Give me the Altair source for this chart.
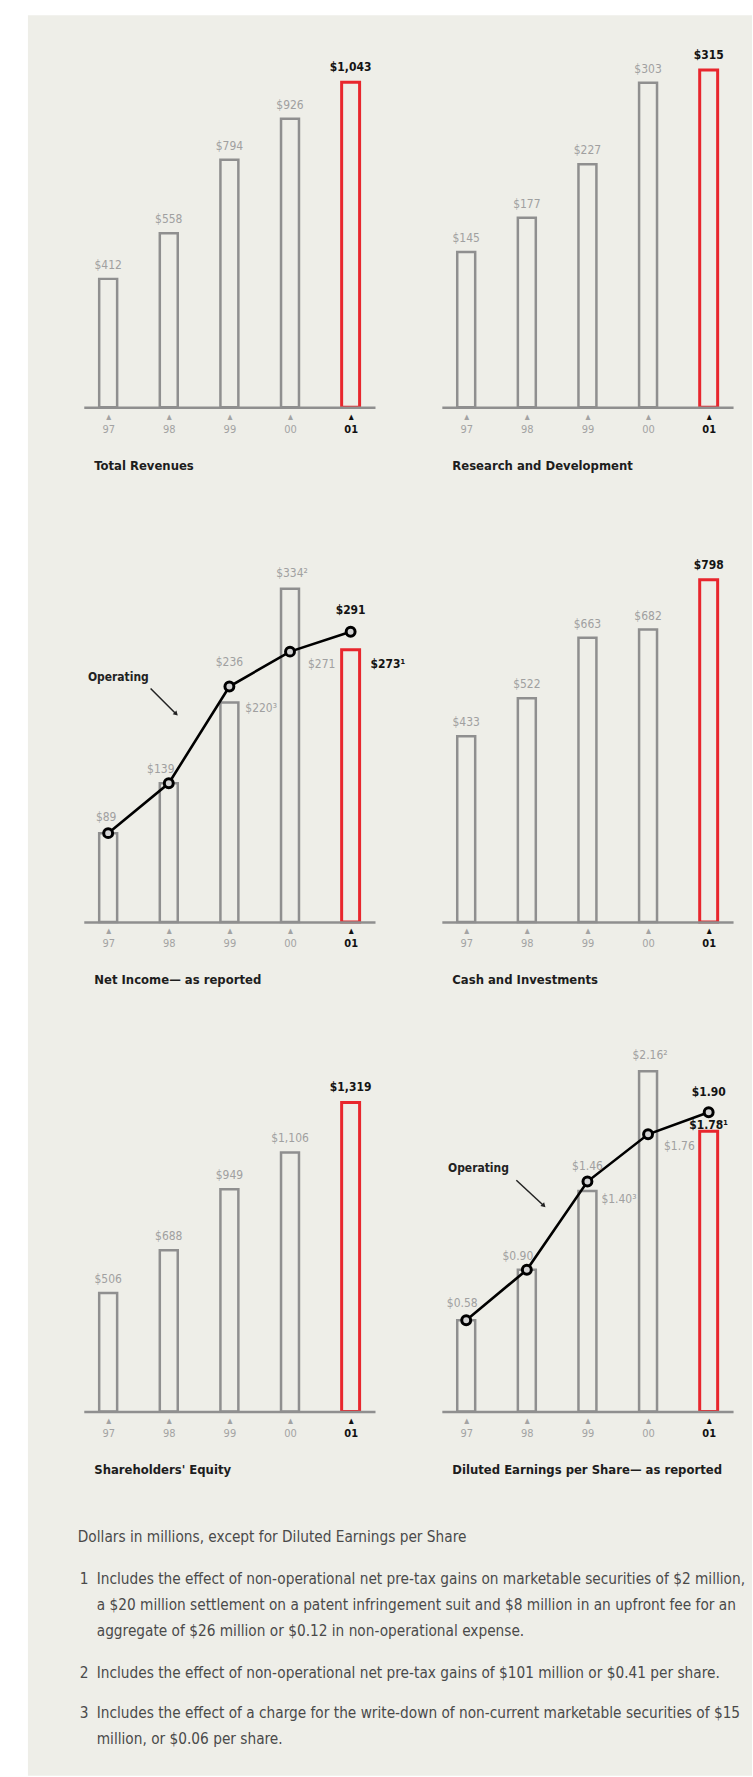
import json
import altair as alt
import pandas as pd

# ---------------- data ----------------
years = ["97", "98", "99", "00", "01"]

revenue = [412, 558, 794, 926, 1043]
rnd = [145, 177, 227, 303, 315]
cash = [433, 522, 663, 682, 798]
equity = [506, 688, 949, 1106, 1319]

ni_reported = [89, 139, 220, 334, 273]
ni_operating = [89, 139, 236, 271, 291]
ni_reported_notes = ["", "", "³", "²", "¹"]

eps_reported = [0.58, 0.90, 1.40, 2.16, 1.78]
eps_operating = [0.58, 0.90, 1.46, 1.76, 1.90]
eps_reported_notes = ["", "", "³", "²", "¹"]

panel_titles = [
    "Total Revenues", "Research and Development",
    "Net Income— as reported", "Cash and Investments",
    "Shareholders' Equity", "Diluted Earnings per Share— as reported",
]
annotation_text = "Operating"

note_intro = "Dollars in millions, except for Diluted Earnings per Share"
footnotes = [
    ("1", ["Includes the effect of non-operational net pre-tax gains on marketable securities of $2 million,",
           "a $20 million settlement on a patent infringement suit and $8 million in an upfront fee for an",
           "aggregate of $26 million or $0.12 in non-operational expense."]),
    ("2", ["Includes the effect of non-operational net pre-tax gains of $101 million or $0.41 per share."]),
    ("3", ["Includes the effect of a charge for the write-down of non-current marketable securities of $15",
           "million, or $0.06 per share."]),
]

# ---------------- style / layout ----------------
FONT = "Liberation Sans Narrow, DejaVu Sans Condensed, Arial Narrow, sans-serif"
BG = "#eeeee8"
BAR_GRAY = "#8f8f8f"
RED = "#e8262d"
LABEL_GRAY = "#a0a0a0"
INK = "#141414"
NOTE_INK = "#4a4a4a"

W = 292
ROW_H = [365, 401, 376]
ROW_GAP = 115
COL_GAP = 67
LEFT, TOP = 83, 40           # origin of first panel on the page
PAGE_W, PAGE_H = 753, 1777
X_DOMAIN = [-0.32, 4.32]

# y-domains (scale maxima) per panel
D_REV, D_RND = 1168, 340
D_NI, D_CASH = 401, 933
D_EQ, D_EPS = 1600, 2.38

# label placement (series, index, dx, dy, align)
ni_label_layout = [
    ("op", 0, -2, -16, "center"),
    ("op", 1, -8, -14, "center"),
    ("op", 2, 0, -25, "center"),
    ("rep", 2, 16, 6, "left"),
    ("rep", 3, 2, -16, "center"),
    ("op", 3, 18, 12, "left"),
    ("op", 4, 0, -22, "center"),
    ("rep", 4, 20, 14, "left"),
]
eps_label_layout = [
    ("op", 0, -4, -17, "center"),
    ("op", 1, -9, -14, "center"),
    ("op", 2, 0, -16, "center"),
    ("rep", 2, 14, 8, "left"),
    ("rep", 3, 2, -16, "center"),
    ("op", 3, 16, 12, "left"),
    ("op", 4, 0, -20, "center"),
    ("rep", 4, 0, -6, "center"),
]
# annotation anchors in data units: text (x, y), arrow start, arrow end
ni_annot = ((-0.334, 246), (0.70, 234), (1.113, 209))
eps_annot = ((-0.30, 1.544), (0.827, 1.468), (1.272, 1.310))

# footnote block, relative to the Shareholders' Equity panel origin
NOTE_FS = 15.3
NOTE_INTRO_Y = 502
NOTE_PARA_Y = [544, 638, 678]
NOTE_LINE_GAP = 26
NOTE_NUM_X, NOTE_TEXT_X, NOTE_INTRO_X = -4, 13, -6


def fmt_int(v):
    return "$" + format(v, ",")


def fmt_eps(v):
    return "$" + format(v, ".2f")


label_expr = "['▴', " + json.dumps(years) + "[datum.value]]"


def x_enc(title):
    return alt.X(
        "idx:Q",
        scale=alt.Scale(domain=X_DOMAIN, nice=False, zero=False),
        axis=alt.Axis(
            values=list(range(len(years))), labelExpr=label_expr,
            ticks=False, grid=False,
            domainColor=BAR_GRAY, domainWidth=2.5,
            labelFont=FONT, labelFontSize=11,
            labelColor={"expr": "datum.value == 4 ? '#111111' : '#a3a3a3'"},
            labelFontWeight={"expr": "datum.value == 4 ? 'bold' : 'normal'"},
            labelPadding=3, labelLineHeight=13, labelBaseline="top",
            labelOverlap=False, labelFlush=False, zindex=1,
            title=title, titleFont=FONT, titleFontSize=13, titleFontWeight="bold",
            titleColor="#1d1d1d", titleAlign="left", titleX=10, titleY=58,
            titleBaseline="middle",
        ),
    )


def y_enc(D, field="value"):
    return alt.Y(f"{field}:Q", scale=alt.Scale(domain=[0, D], nice=False, zero=False), axis=None)


def bars_layer(df, title, D):
    return alt.Chart(df).mark_bar(size=18, fill="transparent").encode(
        x=x_enc(title), y=y_enc(D),
        stroke=alt.condition("datum.idx == 4", alt.value(RED), alt.value(BAR_GRAY)),
        strokeWidth=alt.condition("datum.idx == 4", alt.value(3), alt.value(2.5)),
    )


def note_layers():
    one = pd.DataFrame({"k": [0]})
    out = [
        alt.Chart(one).mark_text(align="left", baseline="middle", font=FONT, fontSize=NOTE_FS,
                                 color=NOTE_INK, text=note_intro)
        .encode(x=alt.value(NOTE_INTRO_X), y=alt.value(NOTE_INTRO_Y))
    ]
    for (num, lines), top in zip(footnotes, NOTE_PARA_Y):
        out.append(
            alt.Chart(one).mark_text(align="left", baseline="middle", font=FONT, fontSize=NOTE_FS,
                                     color=NOTE_INK, text=num)
            .encode(x=alt.value(NOTE_NUM_X), y=alt.value(top)))
        for j, line in enumerate(lines):
            out.append(
                alt.Chart(one).mark_text(align="left", baseline="middle", font=FONT, fontSize=NOTE_FS,
                                         color=NOTE_INK, text=line)
                .encode(x=alt.value(NOTE_TEXT_X), y=alt.value(top + j * NOTE_LINE_GAP)))
    return out


def simple_panel(values, title, D, H, bg=False, notes=False):
    df = pd.DataFrame({"idx": list(range(len(values))), "value": values,
                       "text": [fmt_int(v) for v in values]})
    layers = []
    if bg:
        layers.append(
            alt.Chart(pd.DataFrame({"k": [0]})).mark_rect(color=BG).encode(
                x=alt.value(-(LEFT - 27)), x2=alt.value(PAGE_W - LEFT),
                y=alt.value(-(TOP - 12)), y2=alt.value(PAGE_H - TOP),
            )
        )
    layers.append(bars_layer(df, title, D))
    layers.append(
        alt.Chart(df).transform_filter("datum.idx < 4").mark_text(
            dy=-14, font=FONT, fontSize=12, color=LABEL_GRAY).encode(
            x=x_enc(title), y=y_enc(D), text="text:N")
    )
    layers.append(
        alt.Chart(df).transform_filter("datum.idx == 4").mark_text(
            dy=-15, font=FONT, fontSize=12, fontWeight="bold", color=INK).encode(
            x=x_enc(title), y=y_enc(D), text="text:N")
    )
    if notes:
        layers.extend(note_layers())
    return alt.layer(*layers).properties(width=W, height=H)


def combo_panel(reported, operating, notes, fmt, layout, annot, title, D, H):
    n = len(reported)
    df_rep = pd.DataFrame({"idx": list(range(n)), "value": reported})
    df_op = pd.DataFrame({"idx": list(range(n)), "value": operating})
    layers = [bars_layer(df_rep, title, D)]
    layers.append(alt.Chart(df_op).mark_line(color="#000000", strokeWidth=2.6).encode(
        x=x_enc(title), y=y_enc(D)))
    layers.append(alt.Chart(df_op).mark_point(
        shape="circle", size=80, filled=True, fill="#d4d4d4", stroke="#000000",
        strokeWidth=3, opacity=1).encode(x=x_enc(title), y=y_enc(D)))
    for series, i, dx, dy, align in layout:
        if series == "op":
            v, txt = operating[i], fmt(operating[i])
        else:
            v, txt = reported[i], fmt(reported[i]) + notes[i]
        last = i == n - 1
        row = pd.DataFrame({"idx": [i], "value": [v], "text": [txt]})
        layers.append(alt.Chart(row).mark_text(
            dx=dx, dy=dy, align=align, baseline="middle", font=FONT,
            fontSize=12, fontWeight="bold" if last else "normal",
            color=INK if last else LABEL_GRAY).encode(
            x=x_enc(title), y=y_enc(D), text="text:N"))
    (tx, ty), (ax0, ay0), (ax1, ay1) = annot
    layers.append(alt.Chart(pd.DataFrame({"idx": [tx], "value": [ty], "text": [annotation_text]}))
                  .mark_text(align="left", baseline="middle", font=FONT, fontSize=12,
                             fontWeight="bold", color="#222222")
                  .encode(x=x_enc(title), y=y_enc(D), text="text:N"))
    arrow = pd.DataFrame({"idx": [ax0], "value": [ay0], "idx2": [ax1], "value2": [ay1]})
    layers.append(alt.Chart(arrow).mark_rule(color="#222222", strokeWidth=1.5).encode(
        x=x_enc(title), y=y_enc(D), x2="idx2:Q", y2="value2:Q"))
    layers.append(alt.Chart(pd.DataFrame({"idx": [ax1], "value": [ay1]})).mark_point(
        shape="triangle", angle=135, size=28, filled=True, color="#222222", opacity=1).encode(
        x=x_enc(title), y=y_enc(D)))
    return alt.layer(*layers).properties(width=W, height=H)


p_rev = simple_panel(revenue, panel_titles[0], D_REV, ROW_H[0], bg=True)
p_rnd = simple_panel(rnd, panel_titles[1], D_RND, ROW_H[0])
p_ni = combo_panel(ni_reported, ni_operating, ni_reported_notes, fmt_int, ni_label_layout,
                   ni_annot, panel_titles[2], D_NI, ROW_H[1])
p_cash = simple_panel(cash, panel_titles[3], D_CASH, ROW_H[1])
p_eq = simple_panel(equity, panel_titles[4], D_EQ, ROW_H[2], notes=True)
p_eps = combo_panel(eps_reported, eps_operating, eps_reported_notes, fmt_eps, eps_label_layout,
                    eps_annot, panel_titles[5], D_EPS, ROW_H[2])

chart = alt.concat(
    p_rev, p_rnd, p_ni, p_cash, p_eq, p_eps,
    columns=2, spacing={"row": ROW_GAP, "column": COL_GAP}, bounds="flush",
).properties(
    padding={"left": 27, "top": 12, "right": 0, "bottom": 0}
).configure(background="white").configure_view(stroke="transparent")

chart.save("out.html", embed_options={"renderer": "svg", "actions": False})
